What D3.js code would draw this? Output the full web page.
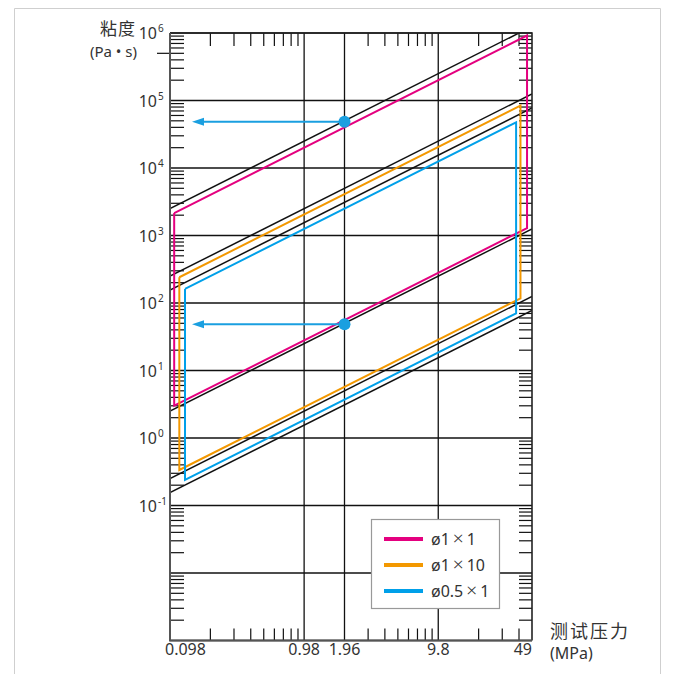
<!DOCTYPE html>
<html>
<head>
<meta charset="utf-8">
<script src="https://cdn.jsdelivr.net/npm/d3@7"></script>
<style>
  body { margin: 0; background: #fff; }
  svg { display: block; }
  text { font-family: "Noto Sans", "Noto Sans CJK SC", sans-serif; fill: #333; }
</style>
</head>
<body>
<div class="canvas"></div>
<script>
const [width, height] = [673, 674];

// axis values
const pressureLabels = [0.098, 0.98, 1.96, 9.8, 49];
const pressureGrid = [0.98, 1.96, 9.8];
const pressureMinor = [0.196, 0.294, 0.392, 0.49, 0.588, 0.686, 0.784, 0.882,
                       2.94, 3.92, 4.9, 5.88, 6.86, 7.84, 8.82,
                       19.6, 29.4, 39.2];
const decadeExps = [-3, -2, -1, 0, 1, 2, 3, 4, 5, 6];
const labelExps = [6, 5, 4, 3, 2, 1, 0, -1];

// black reference lines: viscosity at 0.098 MPa, slope 1 on log-log
const blackLineEta = [2500, 250, 155, 2.5, 0.25, 0.155];

// coloured ranges
const seriesNames = [['ø1', '1'], ['ø1', '10'], ['ø0.5', '1']];
const seriesColors = ['#e4007f', '#f39800', '#00a0e9'];
const seriesPMin = [0.1053, 0.115, 0.1268];
const seriesPMax = [45.0, 40.2, 37.3];
const seriesEtaTop = [2000, 205, 125];     // at 0.098 MPa
const seriesEtaBottom = [2.8, 0.286, 0.185]; // at 0.098 MPa

// example readings
const markerP = [1.96, 1.96];
const markerEta = [5e4, 50];
const arrowEndP = 0.143;

const P0 = 0.098;
const x = d3.scaleLog().domain([0.098, 49]).range([170, 532]);
const y = d3.scaleLog().domain([1e-3, 1e6]).range([640.5, 33]);
const [x0, x1] = x.range();
const [y0, y1] = y.range();

const svg = d3.select('.canvas')
    .append('svg')
    .attr('width', width)
    .attr('height', height);

// page frame
svg.append('path')
    .attr('d', `M14.5,${height} V8.5 H660.5 V${height}`)
    .attr('fill', 'none')
    .attr('stroke', '#cfcfcf')
    .attr('stroke-width', 1);

svg.append('clipPath').attr('id', 'plot')
    .append('rect')
    .attr('x', x0).attr('y', y1)
    .attr('width', x1 - x0).attr('height', y0 - y1);

// grid
svg.selectAll('line.hgrid')
    .data(decadeExps.map(e => Math.pow(10, e)))
    .enter().append('line')
    .attr('class', 'hgrid')
    .attr('x1', x0).attr('x2', x1)
    .attr('y1', d => y(d)).attr('y2', d => y(d))
    .attr('stroke', '#111').attr('stroke-width', 1.3);

svg.selectAll('line.vgrid')
    .data(pressureGrid)
    .enter().append('line')
    .attr('class', 'vgrid')
    .attr('x1', d => x(d)).attr('x2', d => x(d))
    .attr('y1', y1).attr('y2', y0)
    .attr('stroke', '#111').attr('stroke-width', 1.3);

// minor ticks, y
const yMinor = [];
decadeExps.slice(0, -1).forEach(e => {
  for (let k = 2; k <= 9; k++) yMinor.push(k * Math.pow(10, e));
});
svg.selectAll('line.ymin-l')
    .data(yMinor)
    .enter().append('line')
    .attr('x1', x0).attr('x2', x0 + 14)
    .attr('y1', d => y(d)).attr('y2', d => y(d))
    .attr('stroke', '#111').attr('stroke-width', 1.2);
svg.selectAll('line.ymin-r')
    .data(yMinor)
    .enter().append('line')
    .attr('x1', x1 - 13).attr('x2', x1)
    .attr('y1', d => y(d)).attr('y2', d => y(d))
    .attr('stroke', '#111').attr('stroke-width', 1.2);
// stray outer tick at 5e5
svg.append('line')
    .attr('x1', x0 - 13).attr('x2', x0)
    .attr('y1', y(5e5)).attr('y2', y(5e5))
    .attr('stroke', '#111').attr('stroke-width', 1.2);

// minor ticks, x (bottom and top)
svg.selectAll('line.xmin-b')
    .data(pressureMinor)
    .enter().append('line')
    .attr('x1', d => x(d)).attr('x2', d => x(d))
    .attr('y1', y0 - 12).attr('y2', y0)
    .attr('stroke', '#111').attr('stroke-width', 1.2);
svg.selectAll('line.xmin-t')
    .data(pressureMinor)
    .enter().append('line')
    .attr('x1', d => x(d)).attr('x2', d => x(d))
    .attr('y1', y1).attr('y2', y1 + 13)
    .attr('stroke', '#111').attr('stroke-width', 1.2);

// black reference lines
const lineGen = d3.line().x(d => x(d[0])).y(d => y(d[1]));
svg.append('g').attr('clip-path', 'url(#plot)')
    .selectAll('path.ref')
    .data(blackLineEta)
    .enter().append('path')
    .attr('d', e => lineGen([[P0, e], [49, e * 49 / P0]]))
    .attr('fill', 'none')
    .attr('stroke', '#111')
    .attr('stroke-width', 1.5);

// coloured range polygons
const ranges = seriesNames.map((name, i) => {
  const top = p => seriesEtaTop[i] * p / P0;
  const bot = p => seriesEtaBottom[i] * p / P0;
  const a = seriesPMin[i], b = seriesPMax[i];
  return { name, color: seriesColors[i],
           pts: [[a, top(a)], [b, top(b)], [b, bot(b)], [a, bot(a)], [a, top(a)]] };
});
svg.selectAll('path.range')
    .data(ranges)
    .enter().append('path')
    .attr('d', d => lineGen(d.pts))
    .attr('fill', 'none')
    .attr('stroke', d => d.color)
    .attr('stroke-width', 2);

// arrows and markers
const arrowColor = '#1a9fe0';
markerP.forEach((p, i) => {
  const my = y(markerEta[i]) + 1;
  const tip = x(arrowEndP);
  svg.append('line')
      .attr('x1', x(p)).attr('x2', tip + 8)
      .attr('y1', my).attr('y2', my)
      .attr('stroke', arrowColor).attr('stroke-width', 2);
  svg.append('path')
      .attr('d', `M${tip},${my} L${tip + 12},${my - 4} L${tip + 12},${my + 4} Z`)
      .attr('fill', arrowColor);
  svg.append('circle')
      .attr('cx', x(p)).attr('cy', my).attr('r', 6)
      .attr('fill', arrowColor);
});

// axes frame
svg.append('path')
    .attr('d', `M${x0},${y1} H${x1} V${y0}`)
    .attr('fill', 'none').attr('stroke', '#222').attr('stroke-width', 1.6);
svg.append('path')
    .attr('d', `M${x0},${y1} V${y0} H${x1}`)
    .attr('fill', 'none').attr('stroke', '#555').attr('stroke-width', 2);

// y labels
svg.selectAll('text.ylab')
    .data(labelExps)
    .enter().append('text')
    .attr('x', 157).attr('y', e => y(Math.pow(10, e)) + 6)
    .attr('text-anchor', 'end')
    .style('font-size', '16px')
    .text('10');
svg.selectAll('text.yexp')
    .data(labelExps)
    .enter().append('text')
    .attr('x', 158).attr('y', e => y(Math.pow(10, e)) - 1)
    .style('font-size', '10px')
    .text(e => e);

// x labels
svg.selectAll('text.xlab')
    .data(pressureLabels)
    .enter().append('text')
    .attr('x', (d, i) => i === 0 ? x(d) - 5 : x(d))
    .attr('y', 655)
    .attr('text-anchor', (d, i) => i === 0 ? 'start' : (i === pressureLabels.length - 1 ? 'end' : 'middle'))
    .style('font-size', '16px')
    .text(d => d);

// axis titles
svg.append('text').attr('x', 136).attr('y', 35).attr('text-anchor', 'end')
    .style('font-size', '17px').style('letter-spacing', '1px').text('粘度');
svg.append('text').attr('x', 137).attr('y', 57).attr('text-anchor', 'end')
    .style('font-size', '15px').text('(Pa • s)');
svg.append('text').attr('x', 550).attr('y', 638)
    .style('font-size', '18px').style('letter-spacing', '2px').text('测试压力');
svg.append('text').attr('x', 550).attr('y', 659)
    .style('font-size', '16px').text('(MPa)');

// legend
const legend = svg.append('g').attr('transform', 'translate(371,519)');
legend.append('rect')
    .attr('x', 0.5).attr('y', 0.5).attr('width', 128).attr('height', 89)
    .attr('fill', '#fff').attr('stroke', '#999').attr('stroke-width', 1.2);
const item = legend.selectAll('g.item')
    .data(ranges)
    .enter().append('g')
    .attr('transform', (d, i) => `translate(0,${20 + i * 26})`);
item.append('line')
    .attr('x1', 13).attr('x2', 52)
    .attr('stroke', d => d.color).attr('stroke-width', 4);
const label = item.append('text')
    .attr('x', 60).attr('y', 6)
    .style('font-size', '16px');
label.append('tspan').text(d => d.name[0]);
label.append('tspan').attr('dx', 3)
    .style('font-size', '19px').style('font-weight', 300)
    .text('×');
label.append('tspan').attr('dx', 3).text(d => d.name[1]);
</script>
</body>
</html>
